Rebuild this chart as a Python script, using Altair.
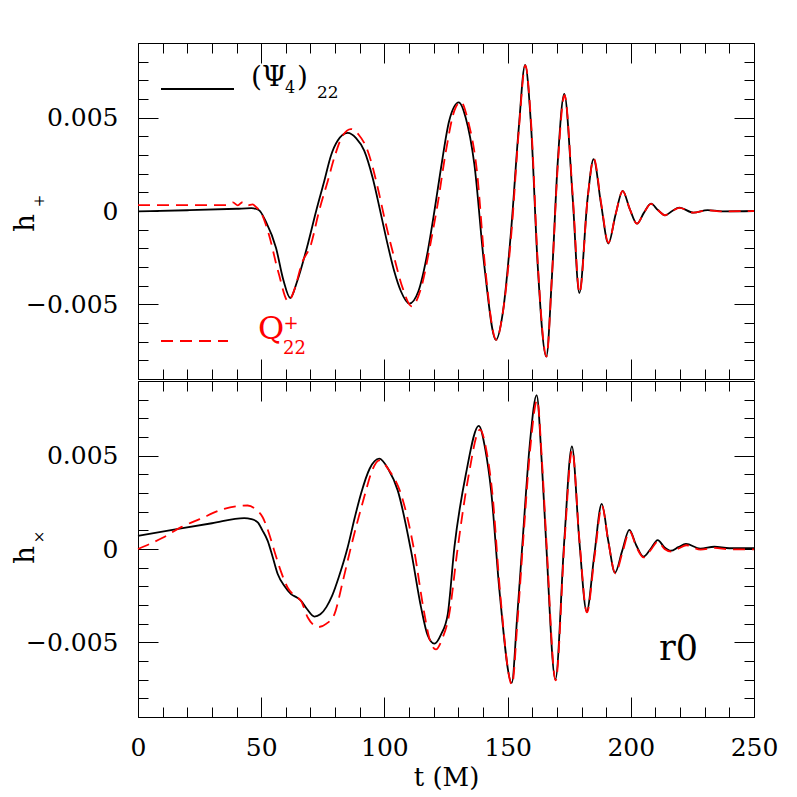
import altair as alt
import pandas as pd

# ---------------- axis ticks / labels ----------------
T_MAJOR = [0, 50, 100, 150, 200, 250]
T_MINOR = [0, 10, 20, 30, 40, 50, 60, 70, 80, 90, 100, 110, 120, 130, 140, 150,
           160, 170, 180, 190, 200, 210, 220, 230, 240, 250]
Y_MAJOR = [-0.005, 0.0, 0.005]
Y_MINOR = [-0.008, -0.007, -0.006, -0.005, -0.004, -0.003, -0.002, -0.001, 0.0,
           0.001, 0.002, 0.003, 0.004, 0.005, 0.006, 0.007, 0.008]

# ---------------- h+ : (Psi4)_22 (black) ----------------
plus_psi_t = [0, 20, 40, 46, 49, 52, 56, 59, 61.8, 64.5, 68.9, 72.3, 75.6, 78.3, 81,
              85.1, 88.5, 91.8, 95.2, 98.6, 101.3, 104, 106.7, 110.1, 113.8, 117.6,
              120.3, 123, 126.3, 130.2, 133, 136.5, 140.5, 145.3, 148, 151.4, 154.5,
              157.1, 159.5, 162.2, 165.7, 168, 170.3, 173, 176.4, 179.1, 182.5, 184.9,
              187.9, 190.9, 193.8, 196.7, 199.6, 202.5, 205.3, 208.2, 211, 213.9,
              216.8, 219.7, 225.4, 231.2, 237, 250]
plus_psi_h = [-0.00002, 0.00004, 0.00012, 0.00015, 0.00005, -0.0006, -0.00197, -0.0037,
              -0.00466, -0.0038, -0.00179, 0.0, 0.00161, 0.00296, 0.00376,
              0.00418, 0.0039, 0.00323, 0.00179, -0.00018, -0.00179, -0.00323, -0.0043,
              -0.00496, -0.0043, -0.00215,
              0.0, 0.00233, 0.00484, 0.00582, 0.0050, 0.00251, -0.00287, -0.0069,
              -0.0055, -0.00108, 0.0044,
              0.00783, 0.0046, -0.00287, -0.0078, -0.0035, 0.00251, 0.00627, 0.00072,
              -0.00439, 0.00072, 0.00278,
              0.0004, -0.00174, -0.0002, 0.00108, 0.0001, -0.00068, -0.0001, 0.00039,
              0.00005, -0.00023,
              0.0, 0.00018, -0.00009, 0.00005, -0.00002, 0.0]

# ---------------- h+ : Q+_22 (red dashed) ----------------
plus_q_t = [0, 36, 38.5, 40.5, 42.5, 44.5, 46.5, 48, 50, 53, 57, 61, 63.5, 66.5, 70.2,
            73.5, 77, 80, 82.5, 86.4, 89.5, 93.2, 97.3, 100, 104, 107.4, 111.1, 114.9,
            118.9, 121.6, 125, 128.4, 131, 134, 137.5, 140.8, 145.4, 148, 151.6, 154.6,
            157.2, 159.6, 162.3, 165.8, 168, 170.4, 173.1, 176.5, 179.2, 182.5, 185,
            188, 190.9, 193.8, 196.7, 199.6, 202.5, 205.3, 208.2, 211, 213.9, 216.8,
            219.7, 225.4, 231.2, 237, 250]
plus_q_h = [0.00032, 0.00032, 0.00046, 0.00030, 0.00048, 0.00030, 0.00035, 0.0002,
            -0.0001, -0.0012, -0.0033, -0.00484, -0.0042, -0.0028, -0.00179,
            0.0, 0.0016, 0.0030, 0.0039, 0.00439, 0.0041, 0.00323, 0.00125, -0.00036,
            -0.00251, -0.00412, -0.00511, -0.00412,
            -0.00161, 0.00036, 0.00323, 0.00538, 0.00585, 0.0048, 0.0022, -0.0029,
            -0.0069, -0.0055, -0.0011, 0.0044,
            0.0078, 0.0046, -0.0029, -0.0078, -0.0035, 0.0025, 0.0062, 0.0007,
            -0.0044, 0.0007, 0.0028,
            0.0004, -0.0017, -0.0002, 0.00107, 0.0001, -0.00068, -0.0001, 0.00038,
            0.00005, -0.00023, 0.0,
            0.00017, -0.00009, 0.00004, -0.00002, 0.0]

# ---------------- hx : (Psi4)_22 (black) ----------------
cross_psi_t = [0, 17.5, 30, 43.1, 46, 48.6, 50.5, 52.6, 54.6, 56.7, 59.5, 62.1, 64.5,
               66.2, 68.5, 71.6, 74, 76.5, 78.8, 81.5, 85.1, 88, 90.5, 94, 97.9, 101.5,
               105.4, 110.8, 114.9, 117.5, 120.3, 123, 125.7, 128.4, 133.1, 138.3, 141,
               143.3, 146.7, 151.7, 153.8, 156.1, 159, 161.8, 163.8, 165.6, 169.4, 173,
               176.1, 179.1, 182.1, 185.2, 188.2, 190.9, 193.6, 196.5, 199.4, 202.2,
               205.1, 208, 210.9, 213.6, 216.3, 219.3, 222.4, 228.2, 233.9, 240, 250]
cross_psi_h = [0.00070, 0.00111, 0.00138, 0.00165, 0.0016, 0.00143, 0.0010, 0.00045,
               -0.0004, -0.00134, -0.0020, -0.00242, -0.0026,
               -0.00278, -0.0032, -0.00362, -0.0035, -0.0031, -0.0025, -0.0015, 0.00009,
               0.0017, 0.00296, 0.0043, 0.00484, 0.0043,
               0.00314, -0.00009, -0.00314, -0.0046, -0.00507, -0.00457, -0.0035,
               0.00009, 0.00403, 0.0066, 0.0053,
               0.00314, -0.00224, -0.00717, -0.0038, 0.00045, 0.0056, 0.00824, 0.0048,
               0.00045, -0.00699, 0.00045,
               0.0055, 0.00045, -0.00335, -0.0003, 0.00242, 0.0004, -0.00127, -0.0001,
               0.00102, 0.0002,
               -0.00041, 0.0, 0.00048, 0.0001, -0.00009, 0.0001, 0.00027, 0.00002,
               0.00012, 0.00004, 0.00005]

# ---------------- hx : Q+_22 (red dashed) ----------------
cross_q_t = [0, 10, 17.5, 25, 35, 44.5, 48, 50.6, 53, 55.3, 58, 60.7, 63.5, 66.2, 68.9,
             73.2, 76.5, 79.7, 83, 86.4, 91.8, 95, 97.9, 102, 106.7, 112.1, 116, 118.5,
             120.9, 123.5, 126.3, 129.5, 134, 138.8, 141.5, 143.8, 147, 151.8, 154,
             156.3, 159.2, 162, 164, 165.8, 169.5, 173.1, 176.2, 179.2, 182.2, 185.3,
             188.3, 191, 193.7, 196.6, 199.5, 202.3, 205.2, 208.1, 211, 213.7, 216.4,
             219.4, 222.5, 228.3, 234, 240, 250]
cross_q_h = [0.0, 0.0006, 0.00117, 0.0016, 0.00215, 0.00233, 0.0021, 0.0017, 0.0009,
             -0.00009, -0.0012, -0.00206, -0.0025, -0.00278, -0.00367,
             -0.00418, -0.0040, -0.0035, -0.0018, 0.00009, 0.00278, 0.0042, 0.00475,
             0.0042, 0.00296, -0.00009, -0.0033, -0.0049,
             -0.00538, -0.0048, -0.0035, -0.0002, 0.0038, 0.0064, 0.0052, 0.0030,
             -0.0024, -0.00726, -0.0039,
             0.0004, 0.0054, 0.00797, 0.0046, 0.0003, -0.00704, 0.0004, 0.0053,
             0.0004, -0.0034, -0.0004,
             0.0023, 0.0003, -0.0013, -0.0002, 0.00095, 0.0001, -0.00045, -0.00005,
             0.0004, 0.0, -0.00014,
             0.00003, 0.0002, -0.00003, 0.00006, -0.00002, -0.00002]

FONT = "DejaVu Serif"
W, H = 616, 336
XS = alt.Scale(domain=[0, 250], nice=False, zero=False)
YS = alt.Scale(domain=[-0.009, 0.009], nice=False, zero=False)


def make_axis(orient, values, size, labels=False, title=None, pad=20, fmt=None):
    kw = dict(orient=orient, values=values, tickSize=size, offset=-size,
              domain=False, grid=False, labels=labels, ticks=True,
              tickColor="black", tickWidth=1, title=title, labelPadding=pad,
              labelFlush=False, labelOverlap=False)
    if fmt is not None:
        kw["format"] = fmt
    return alt.Axis(**kw)


def txt(s, x, y, size, color="black", angle=0, align="left", baseline="alphabetic"):
    return alt.Chart(alt.Data(values=[{}])).mark_text(
        text=s, font=FONT, fontSize=size, color=color, angle=angle,
        align=align, baseline=baseline
    ).encode(x=alt.value(x), y=alt.value(y))


def panel(t_b, h_b, t_r, h_r, bottom, extras):
    dfb = pd.DataFrame({"t": t_b, "h": h_b})
    dfr = pd.DataFrame({"t": t_r, "h": h_r})
    black = alt.Chart(dfb).mark_line(color="black", strokeWidth=1.8,
                                      interpolate="monotone").encode(
        x=alt.X("t:Q", scale=XS,
                axis=make_axis("bottom", T_MAJOR, 20, labels=bottom,
                               title="t (M)" if bottom else None, pad=18)),
        y=alt.Y("h:Q", scale=YS,
                axis=make_axis("left", Y_MAJOR, 20, labels=True, pad=20, fmt=".3~f")),
    )
    red = alt.Chart(dfr).mark_line(color="#ff0000", strokeWidth=1.8,
                                    strokeDash=[12, 7], interpolate="monotone").encode(
        x=alt.X("t:Q", scale=XS, axis=make_axis("bottom", T_MINOR, 10)),
        y=alt.Y("h:Q", scale=YS, axis=make_axis("left", Y_MINOR, 10)),
    )
    inv1 = alt.Chart(dfb).mark_line(opacity=0).encode(
        x=alt.X("t:Q", scale=XS, axis=make_axis("top", T_MAJOR, 20)),
        y=alt.Y("h:Q", scale=YS, axis=make_axis("right", Y_MAJOR, 20)),
    )
    inv2 = alt.Chart(dfb).mark_line(opacity=0).encode(
        x=alt.X("t:Q", scale=XS, axis=make_axis("top", T_MINOR, 10)),
        y=alt.Y("h:Q", scale=YS, axis=make_axis("right", Y_MINOR, 10)),
    )
    return alt.layer(black, red, inv1, inv2, *extras).resolve_axis(
        x="independent", y="independent").properties(width=W, height=H)


top_extras = [
    alt.Chart(alt.Data(values=[{}])).mark_rule(color="black", strokeWidth=1.8).encode(
        x=alt.value(23), x2=alt.value(96), y=alt.value(46)),
    txt("(Ψ", 113, 43, 28),
    txt("4", 147, 50, 16),
    txt(")", 159, 43, 28),
    txt("22", 179, 55, 17),
    alt.Chart(alt.Data(values=[{}])).mark_rule(color="#ff0000", strokeWidth=1.8,
                                               strokeDash=[12, 7]).encode(
        x=alt.value(23), x2=alt.value(90), y=alt.value(298)),
    txt("Q", 120, 296, 32, color="#ff0000"),
    txt("+", 153, 281, 18, color="#ff0000", align="center", baseline="middle"),
    txt("22", 145, 311, 18, color="#ff0000"),
    txt("h", -112, 180, 28, angle=270, align="center", baseline="middle"),
    txt("+", -99, 158, 15, angle=270, align="center", baseline="middle"),
]
bottom_extras = [
    txt("r0", 521, 279, 35),
    txt("h", -112, 174, 28, angle=270, align="center", baseline="middle"),
    txt("×", -99, 156, 15, angle=270, align="center", baseline="middle"),
]

top = panel(plus_psi_t, plus_psi_h, plus_q_t, plus_q_h, False, top_extras)
bot = panel(cross_psi_t, cross_psi_h, cross_q_t, cross_q_h, True, bottom_extras)

chart = alt.vconcat(top, bot, spacing=0).properties(
    padding={"left": 3, "top": 34, "right": 10, "bottom": 5}
).configure_view(stroke="black", strokeWidth=1).configure_axis(
    labelFont=FONT, labelFontSize=25, labelColor="black",
    titleFont=FONT, titleFontSize=26, titleFontWeight="normal", titleColor="black",
    titlePadding=4
)

chart.save("out.html", embed_options={"renderer": "svg", "actions": False})
